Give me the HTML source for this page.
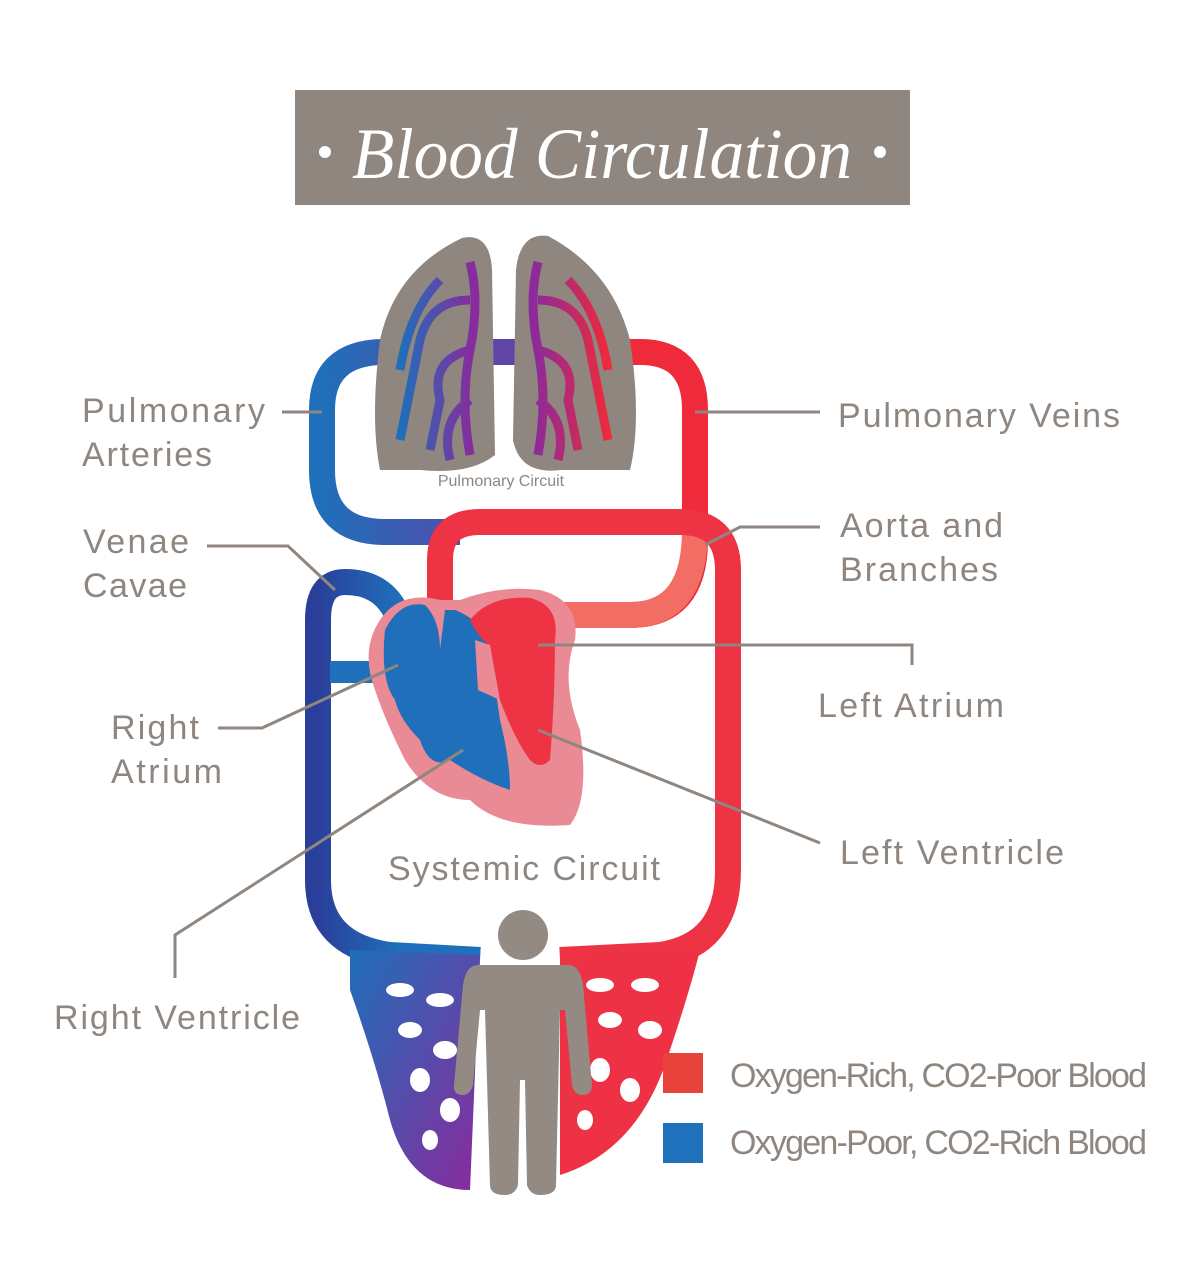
<!DOCTYPE html>
<html><head><meta charset="utf-8"><style>
body{margin:0;background:#fff;width:1200px;height:1268px;overflow:hidden}
svg{display:block}
.l{font-family:"Liberation Sans",sans-serif;fill:#8f867f;font-size:34px}
.g{stroke:#8f867f;stroke-width:3;fill:none}
</style></head><body>
<svg width="1200" height="1268" viewBox="0 0 1200 1268">
<defs>
<linearGradient id="bl" x1="0" x2="1"><stop offset="0" stop-color="#1f6fba"/><stop offset="1" stop-color="#8a2a9c"/></linearGradient>
<linearGradient id="rl" x1="0" x2="1"><stop offset="0" stop-color="#8a2a9c"/><stop offset="1" stop-color="#ee2a3b"/></linearGradient>
<linearGradient id="bv" x1="0" x2="1"><stop offset="0" stop-color="#2a3f9a"/><stop offset="0.5" stop-color="#1f6fba"/><stop offset="1" stop-color="#1f6fba"/></linearGradient>
<linearGradient id="capL" x1="0" x2="1" y1="0" y2="1"><stop offset="0" stop-color="#1f6fba"/><stop offset="1" stop-color="#8a2a9c"/></linearGradient>
<linearGradient id="capR" x1="0" x2="1" y1="0" y2="1"><stop offset="0" stop-color="#ee3345"/><stop offset="1" stop-color="#ef2f45"/></linearGradient>
</defs>
<!-- title -->
<rect x="295" y="90" width="615" height="115" fill="#8f867f"/>
<circle cx="325" cy="152" r="6" fill="#fff"/><circle cx="880" cy="152" r="6" fill="#fff"/>
<text x="602" y="178" text-anchor="middle" font-family="Liberation Serif,serif" font-style="italic" font-size="72" fill="#fff" textLength="500" lengthAdjust="spacingAndGlyphs">Blood Circulation</text>

<!-- tubes -->
<path d="M460 532 L385 532 Q322 532 322 470 L322 410 Q322 352 385 352 L620 352" stroke="url(#bl)" stroke-width="26" fill="none"/>
<path d="M560 352 L640 352 Q695 352 695 410 L695 540 Q695 615 630 615 L560 615" stroke="#ee2a3b" stroke-width="26" fill="none"/>
<path d="M695 530 Q695 615 630 615 L560 615" stroke="#f26d63" stroke-width="26" fill="none"/>
<path d="M440 600 L440 560 Q440 522 480 522 L680 522 Q728 522 728 570 L728 870 Q728 945 660 955 L560 960" stroke="#ee3345" stroke-width="26" fill="none"/>
<path d="M395 610 Q380 582 345 582 Q318 582 318 620 L318 880 Q318 945 390 955 L480 960" stroke="url(#bv)" stroke-width="26" fill="none"/>
<path d="M330 672 L375 672" stroke="#1f6fba" stroke-width="22"/>

<!-- lungs -->
<path d="M462 238 Q490 232 492 270 L495 455 Q470 475 420 470 L380 470 Q370 420 380 340 Q395 270 462 238Z" fill="#8f867f"/>
<path d="M548 236 Q520 232 516 270 L513 440 Q520 475 560 470 L630 470 Q642 420 630 340 Q612 270 548 236Z" fill="#8f867f"/>
<g fill="none" stroke-width="9">
<path d="M470 262 Q480 300 470 350 Q460 400 470 455 M470 300 Q430 300 420 340 Q410 390 400 440 M470 350 Q430 360 440 400 L430 450 M470 400 Q440 420 450 460 M440 280 Q410 310 400 370" stroke="url(#bl)"/>
<path d="M538 262 Q528 300 538 350 Q548 400 538 455 M538 300 Q578 300 588 340 Q598 390 608 440 M538 350 Q578 360 568 400 L578 450 M538 400 Q568 420 558 460 M568 280 Q598 310 608 370" stroke="url(#rl)"/>
</g>
<text x="501" y="486" text-anchor="middle" font-family="Liberation Sans,sans-serif" font-size="16" fill="#8f867f">Pulmonary Circuit</text>

<!-- heart -->
<path d="M380 620 Q400 590 440 600 L460 600 Q500 585 540 590 Q580 600 575 640 Q560 680 580 730 Q590 800 570 825 Q500 830 470 800 Q430 800 405 760 Q385 720 375 690 Q360 650 380 620Z" fill="#e98a94"/>
<path d="M385 630 Q400 600 425 605 Q440 620 440 650 L445 610 L455 610 Q480 620 488 640 L500 720 Q510 760 510 790 Q480 780 450 760 Q430 770 420 740 Q400 720 395 700 Q380 680 385 630Z" fill="#1f6fba"/>
<path d="M470 620 Q490 595 530 598 Q560 605 555 640 Q555 700 550 760 Q540 770 530 760 Q515 740 500 700 Q485 670 490 645 Q480 640 470 620Z" fill="#ee3345"/>
<path d="M475 640 L490 645 L500 700 L478 690Z" fill="#e98a94"/>

<!-- capillaries -->
<path d="M350 950 L480 955 L470 1190 Q410 1190 390 1120 Q375 1060 350 990Z" fill="url(#capL)"/>
<path d="M560 955 L700 950 Q690 990 670 1050 Q640 1150 560 1175Z" fill="url(#capR)"/>
<g fill="#fff">
<ellipse cx="400" cy="990" rx="14" ry="7"/><ellipse cx="440" cy="1000" rx="14" ry="7"/><ellipse cx="410" cy="1030" rx="12" ry="8"/><ellipse cx="445" cy="1050" rx="12" ry="9"/><ellipse cx="420" cy="1080" rx="10" ry="12"/><ellipse cx="450" cy="1110" rx="10" ry="12"/><ellipse cx="430" cy="1140" rx="8" ry="10"/>
<ellipse cx="600" cy="985" rx="14" ry="7"/><ellipse cx="645" cy="985" rx="14" ry="7"/><ellipse cx="610" cy="1020" rx="12" ry="8"/><ellipse cx="650" cy="1030" rx="12" ry="9"/><ellipse cx="600" cy="1070" rx="10" ry="12"/><ellipse cx="630" cy="1090" rx="10" ry="12"/><ellipse cx="585" cy="1120" rx="8" ry="10"/>
</g>
<!-- person -->
<g fill="#938a83">
<circle cx="523" cy="935" r="25"/>
<path d="M478 965 L568 965 Q580 965 583 985 L592 1085 Q592 1095 582 1095 Q574 1095 572 1085 L565 1010 L560 1010 L556 1185 Q556 1195 540 1195 Q530 1195 527 1185 L525 1080 L520 1080 L518 1185 Q515 1195 505 1195 Q490 1195 490 1185 L485 1010 L480 1010 L473 1085 Q470 1095 463 1095 Q453 1095 454 1085 L463 985 Q466 965 478 965Z"/>
</g>

<!-- leader lines -->
<path class="g" d="M282 412 L322 412"/>
<path class="g" d="M695 412 L820 412"/>
<path class="g" d="M705 545 L740 527 L820 527"/>
<path class="g" d="M207 546 L288 546 L335 590"/>
<path class="g" d="M538 645 L912 645 L912 665"/>
<path class="g" d="M218 728 L262 728 L398 665"/>
<path class="g" d="M175 978 L175 935 L463 750"/>
<path class="g" d="M538 730 L820 843"/>

<!-- labels -->
<text class="l" x="82" y="422" textLength="183">Pulmonary</text>
<text class="l" x="82" y="466" textLength="130">Arteries</text>
<text class="l" x="838" y="427" textLength="282">Pulmonary Veins</text>
<text class="l" x="840" y="537" textLength="163">Aorta and</text>
<text class="l" x="840" y="581" textLength="158">Branches</text>
<text class="l" x="83" y="553" textLength="106">Venae</text>
<text class="l" x="83" y="597" textLength="104">Cavae</text>
<text class="l" x="818" y="717" textLength="186">Left Atrium</text>
<text class="l" x="111" y="739" textLength="88">Right</text>
<text class="l" x="111" y="783" textLength="111">Atrium</text>
<text class="l" x="840" y="864" textLength="224">Left Ventricle</text>
<text class="l" x="388" y="880" textLength="272">Systemic Circuit</text>
<text class="l" x="54" y="1029" textLength="246">Right Ventricle</text>

<!-- legend -->
<rect x="663" y="1053" width="40" height="40" fill="#e8423a"/>
<rect x="663" y="1123" width="40" height="40" fill="#1f72bb"/>
<text class="l" x="730" y="1087" font-size="26" textLength="417">Oxygen-Rich, CO2-Poor Blood</text>
<text class="l" x="730" y="1154" font-size="26" textLength="417">Oxygen-Poor, CO2-Rich Blood</text>
</svg>
</body></html>
